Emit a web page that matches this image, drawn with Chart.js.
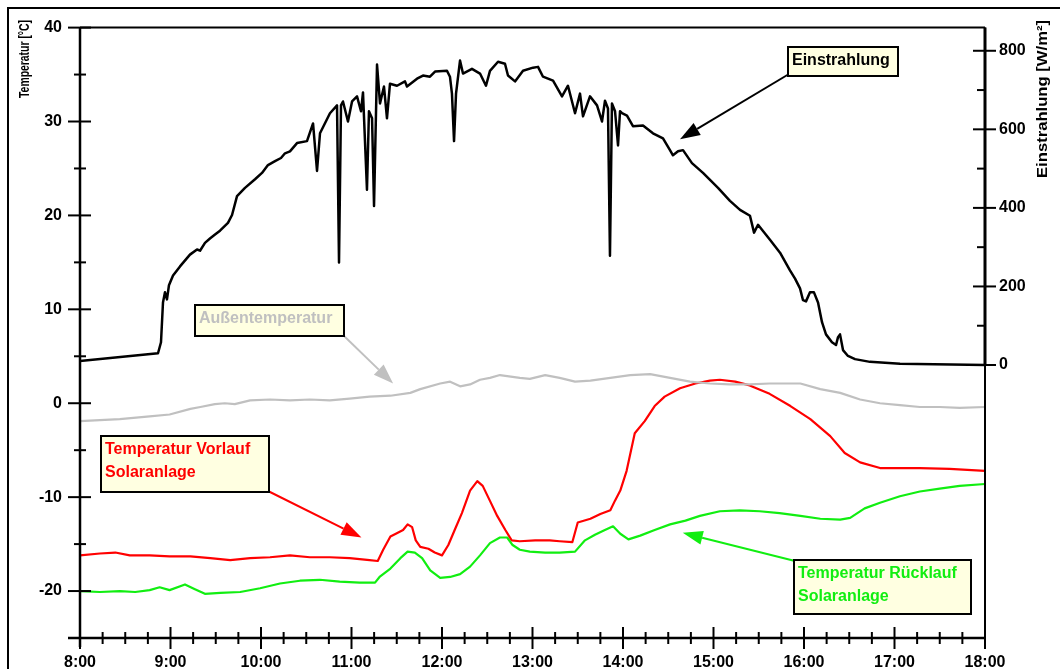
<!DOCTYPE html>
<html lang="de">
<head>
<meta charset="utf-8">
<title>Solaranlage – Temperaturen und Einstrahlung</title>
<script src="https://cdn.jsdelivr.net/npm/chart.js@4.4.1/dist/chart.umd.min.js"></script>
<style>
  html, body { margin: 0; padding: 0; background: #fff; }
  #wrap { width: 1060px; height: 669px; }
</style>
</head>
<body>
<div id="wrap"><canvas id="chart" width="1060" height="669"></canvas></div>
<script>
// ------------------------------------------------------------
// Data (time in decimal hours)
// ------------------------------------------------------------
const hourTicks = [8, 9, 10, 11, 12, 13, 14, 15, 16, 17, 18];
const tempTicks = [-20, -10, 0, 10, 20, 30, 40];
const irrTicks = [0, 200, 400, 600, 800];

// Einstrahlung [W/m²]
const irrTime = [8.00, 8.862, 8.895, 8.917, 8.939, 8.961, 8.983, 9.028, 9.105, 9.215,
  9.293, 9.326, 9.381, 9.436, 9.492, 9.547, 9.635, 9.680, 9.735, 9.823,
  9.934, 10.011, 10.077, 10.155, 10.221, 10.265, 10.320, 10.398, 10.508, 10.575,
  10.619, 10.652, 10.762, 10.840, 10.862, 10.884, 10.906, 10.961, 11.006, 11.061,
  11.105, 11.127, 11.171, 11.193, 11.227, 11.249, 11.282, 11.315, 11.359, 11.392,
  11.425, 11.503, 11.591, 11.613, 11.724, 11.790, 11.867, 11.923, 12.055, 12.088,
  12.110, 12.133, 12.155, 12.199, 12.232, 12.331, 12.420, 12.486, 12.530, 12.619,
  12.696, 12.729, 12.807, 12.895, 13.006, 13.061, 13.116, 13.227, 13.326, 13.392,
  13.470, 13.525, 13.558, 13.635, 13.713, 13.768, 13.801, 13.834, 13.856, 13.878,
  13.912, 13.945, 13.967, 13.989, 14.044, 14.110, 14.221, 14.331, 14.442, 14.519,
  14.552, 14.608, 14.663, 14.762, 14.884, 15.050, 15.182, 15.293, 15.403, 15.448,
  15.492, 15.624, 15.735, 15.845, 15.901, 15.956, 15.989, 16.022, 16.066, 16.110,
  16.155, 16.199, 16.243, 16.309, 16.354, 16.376, 16.398, 16.431, 16.486, 16.564,
  16.729, 17.061, 18.00];
const irrValue = [10, 30, 58, 159, 185, 167, 203, 228, 251, 281,
  294, 291, 311, 322, 332, 342, 362, 382, 430, 451,
  473, 489, 509, 519, 527, 539, 544, 565, 570, 615,
  494, 590, 641, 661, 261, 661, 671, 620, 671, 684,
  646, 694, 446, 646, 628, 405, 765, 666, 709, 628,
  716, 711, 722, 709, 729, 737, 734, 747, 749, 734,
  691, 570, 691, 775, 742, 754, 742, 711, 749, 772,
  767, 737, 722, 749, 757, 759, 734, 724, 684, 711,
  641, 691, 633, 684, 661, 620, 673, 653, 278, 666,
  646, 559, 646, 641, 635, 608, 610, 590, 577, 547,
  534, 544, 547, 514, 489, 451, 418, 395, 380, 337,
  357, 319, 286, 241, 220, 195, 165, 162, 185, 185,
  159, 109, 78, 58, 51, 71, 78, 38, 23, 15,
  8, 3, 0];

// Außentemperatur [°C]
const outTime = [8.00, 8.22, 8.44, 8.77, 8.99, 9.22, 9.33, 9.49, 9.60, 9.71,
  9.88, 10.10, 10.32, 10.54, 10.76, 10.98, 11.20, 11.43, 11.65, 11.76,
  11.98, 12.09, 12.20, 12.31, 12.42, 12.53, 12.64, 12.86, 12.97, 13.14,
  13.30, 13.47, 13.64, 13.86, 14.08, 14.30, 14.52, 14.74, 14.96, 15.18,
  15.40, 15.62, 15.85, 15.96, 16.18, 16.40, 16.62, 16.84, 17.06, 17.28,
  17.50, 17.72, 18.00];
const outTemp = [-1.9, -1.8, -1.7, -1.4, -1.2, -0.6, -0.4, -0.1, 0.0, -0.1,
  0.3, 0.4, 0.3, 0.4, 0.3, 0.5, 0.7, 0.8, 1.1, 1.5,
  2.1, 2.3, 1.8, 2.0, 2.5, 2.7, 3.0, 2.7, 2.6, 3.0,
  2.7, 2.3, 2.4, 2.7, 3.0, 3.1, 2.7, 2.3, 2.1, 2.0,
  2.0, 2.1, 2.1, 2.1, 1.5, 1.1, 0.4, 0.0, -0.2, -0.4,
  -0.4, -0.5, -0.4];

// Temperatur Vorlauf Solaranlage [°C]
const flowTime = [8.00, 8.22, 8.39, 8.55, 8.77, 8.99, 9.22, 9.44, 9.66, 9.88,
  10.10, 10.32, 10.54, 10.76, 10.98, 11.20, 11.29, 11.35, 11.43, 11.49,
  11.57, 11.62, 11.67, 11.71, 11.76, 11.85, 11.92, 12.00, 12.07, 12.14,
  12.22, 12.31, 12.39, 12.45, 12.53, 12.61, 12.70, 12.77, 12.86, 13.03,
  13.19, 13.30, 13.44, 13.50, 13.64, 13.75, 13.86, 13.91, 13.97, 14.04,
  14.13, 14.24, 14.35, 14.46, 14.63, 14.80, 14.96, 15.07, 15.24, 15.40,
  15.62, 15.85, 16.07, 16.29, 16.45, 16.62, 16.84, 17.06, 17.28, 17.61, 18.00];
const flowTemp = [-16.2, -16.0, -15.9, -16.2, -16.2, -16.3, -16.3, -16.5, -16.7, -16.5,
  -16.4, -16.2, -16.4, -16.4, -16.5, -16.7, -16.8, -15.6, -14.2, -13.9,
  -13.5, -12.9, -13.2, -14.6, -15.3, -15.5, -15.9, -16.2, -15.1, -13.5,
  -11.7, -9.3, -8.3, -8.8, -10.4, -12.0, -13.5, -14.6, -14.7, -14.6,
  -14.6, -14.7, -14.8, -12.7, -12.3, -11.8, -11.4, -10.4, -9.3, -7.2,
  -3.2, -1.9, -0.3, 0.7, 1.6, 2.1, 2.4, 2.5, 2.3, 1.9,
  1.0, -0.3, -1.7, -3.5, -5.3, -6.3, -6.9, -6.9, -6.9, -7.0, -7.2];

// Temperatur Rücklauf Solaranlage [°C]
const returnTime = [8.00, 8.22, 8.44, 8.61, 8.77, 8.88, 8.99, 9.16, 9.27, 9.38,
  9.55, 9.77, 9.99, 10.21, 10.43, 10.65, 10.87, 11.09, 11.26, 11.31,
  11.43, 11.54, 11.62, 11.70, 11.78, 11.87, 11.98, 12.09, 12.20, 12.31,
  12.42, 12.53, 12.64, 12.72, 12.78, 12.86, 12.97, 13.14, 13.30, 13.47,
  13.58, 13.69, 13.80, 13.89, 13.97, 14.06, 14.19, 14.35, 14.52, 14.69,
  14.85, 15.07, 15.29, 15.51, 15.73, 15.96, 16.18, 16.40, 16.51, 16.67,
  16.84, 17.06, 17.28, 17.50, 17.72, 18.00];
const returnTemp = [-20.0, -20.1, -20.0, -20.1, -19.9, -19.6, -19.9, -19.3, -19.8, -20.3,
  -20.2, -20.1, -19.7, -19.2, -18.9, -18.8, -19.0, -19.1, -19.1, -18.5,
  -17.6, -16.5, -15.8, -15.9, -16.5, -17.8, -18.6, -18.5, -18.2, -17.4,
  -16.2, -14.9, -14.3, -14.3, -15.1, -15.6, -15.8, -15.9, -15.9, -15.8,
  -14.6, -14.0, -13.5, -13.1, -13.9, -14.5, -14.1, -13.5, -12.9, -12.5,
  -12.0, -11.5, -11.4, -11.5, -11.7, -12.0, -12.3, -12.4, -12.2, -11.2,
  -10.6, -9.9, -9.4, -9.1, -8.8, -8.6];

// ------------------------------------------------------------
// Styling
// ------------------------------------------------------------
const FONT = "'Liberation Sans', Arial, Helvetica, sans-serif";
const C_IRR = '#000000';
const C_OUT = '#c0c0c0';
const C_FLOW = '#ff0000';
const C_RET = '#11ee11';
const NOTE_FILL = '#ffffe1';

const pts = (t, v) => t.map((x, i) => ({ x, y: v[i] }));

// callout boxes: box in px, arrow tip in data units
const notes = [
  { lines: ['Einstrahlung'], color: C_IRR, box: [788, 47, 110, 29], from: [789, 74], axis: 'y2', tip: [14.63, 575] },
  { lines: ['Außentemperatur'], color: C_OUT, box: [195, 305, 149, 31], from: [343, 335], axis: 'y', tip: [11.46, 2.1] },
  { lines: ['Temperatur Vorlauf', 'Solaranlage'], color: C_FLOW, box: [101, 436, 168, 56], from: [268, 491], axis: 'y', tip: [11.11, -14.3] },
  { lines: ['Temperatur Rücklauf', 'Solaranlage'], color: C_RET, box: [794, 560, 177, 54], from: [795, 561], axis: 'y', tip: [14.66, -13.8] }
];

function seg(ctx, x1, y1, x2, y2, w) {
  ctx.lineWidth = w;
  ctx.beginPath();
  ctx.moveTo(x1, y1);
  ctx.lineTo(x2, y2);
  ctx.stroke();
}

function arrow(ctx, x0, y0, x1, y1, color) {
  const ang = Math.atan2(y1 - y0, x1 - x0);
  const len = 20, half = 7;
  const bx = x1 - len * Math.cos(ang), by = y1 - len * Math.sin(ang);
  ctx.strokeStyle = color;
  seg(ctx, x0, y0, bx, by, 2);
  ctx.fillStyle = color;
  ctx.beginPath();
  ctx.moveTo(x1, y1);
  ctx.lineTo(bx + half * Math.sin(ang), by - half * Math.cos(ang));
  ctx.lineTo(bx - half * Math.sin(ang), by + half * Math.cos(ang));
  ctx.closePath();
  ctx.fill();
}

// rotated axis title, stretched to a fixed length
function verticalText(ctx, text, cx, bottom, length, font) {
  ctx.save();
  ctx.font = font;
  const w = ctx.measureText(text).width;
  ctx.translate(cx, bottom);
  ctx.rotate(-Math.PI / 2);
  ctx.scale(length / w, 1);
  ctx.textAlign = 'left';
  ctx.textBaseline = 'middle';
  ctx.fillStyle = '#000';
  ctx.fillText(text, 0, 0);
  ctx.restore();
}

// axes, tick marks, frame, titles and callouts
const decorPlugin = {
  id: 'decor',
  afterDatasetsDraw(chart) {
    const { ctx, chartArea: a, scales: { x, y, y2 } } = chart;
    ctx.save();
    ctx.strokeStyle = '#000';
    ctx.lineCap = 'butt';

    // figure border
    ctx.lineWidth = 2;
    ctx.strokeRect(8, 8, 1100, 700);

    // frame + axes
    seg(ctx, a.left, a.top, a.right, a.top, 2);
    seg(ctx, a.right, a.top, a.right, a.bottom + 11, 2);
    seg(ctx, a.right, a.top, a.right, y2.getPixelForValue(0), 3);
    seg(ctx, a.left, a.top, a.left, a.bottom + 9, 2.5);
    seg(ctx, a.left - 12, a.bottom, a.right, a.bottom, 2.5);

    // left ticks
    tempTicks.forEach(v => { const p = y.getPixelForValue(v); seg(ctx, a.left - 12, p, a.left + 11, p, 2); });
    for (let v = -15; v < 40; v += 10) { const p = y.getPixelForValue(v); seg(ctx, a.left - 6, p, a.left + 6, p, 2); }
    // right ticks
    irrTicks.forEach(v => { const p = y2.getPixelForValue(v); seg(ctx, a.right - 12, p, a.right + 11, p, 2); });
    for (let v = 100; v < 800; v += 200) { const p = y2.getPixelForValue(v); seg(ctx, a.right - 8, p, a.right, p, 2); }
    // time ticks
    hourTicks.forEach(v => { const p = x.getPixelForValue(v); seg(ctx, p, a.bottom - 11, p, a.bottom + 11, 2); });
    for (let h = 8; h < 18; h++) {
      for (let q = 1; q < 4; q++) {
        const p = x.getPixelForValue(h + q / 4);
        seg(ctx, p, a.bottom - 6, p, a.bottom + 6, 2);
      }
    }

    // axis titles
    verticalText(ctx, 'Temperatur [°C]', 25, 98, 78, 'bold 14px ' + FONT);
    verticalText(ctx, 'Einstrahlung [W/m²]', 1043, 178, 158, 'bold 14px ' + FONT);

    // callouts
    notes.forEach(n => {
      const tx = x.getPixelForValue(n.tip[0]);
      const ty = chart.scales[n.axis].getPixelForValue(n.tip[1]);
      arrow(ctx, n.from[0], n.from[1], tx, ty, n.color);
    });
    notes.forEach(n => {
      const [bx, by, bw, bh] = n.box;
      ctx.fillStyle = NOTE_FILL;
      ctx.fillRect(bx, by, bw, bh);
      ctx.strokeStyle = '#000';
      ctx.lineWidth = 2;
      ctx.strokeRect(bx, by, bw, bh);
      ctx.fillStyle = n.color;
      ctx.font = 'bold 16px ' + FONT;
      ctx.textAlign = 'left';
      ctx.textBaseline = 'alphabetic';
      n.lines.forEach((s, i) => ctx.fillText(s, bx + 4, by + 18 + i * 23));
    });
    ctx.restore();
  }
};

const tickFont = { family: FONT, size: 16, weight: 'bold' };

new Chart(document.getElementById('chart'), {
  type: 'line',
  data: {
    datasets: [
      { label: 'Außentemperatur', data: pts(outTime, outTemp), borderColor: C_OUT, borderWidth: 2.2, yAxisID: 'y' },
      { label: 'Temperatur Rücklauf Solaranlage', data: pts(returnTime, returnTemp), borderColor: C_RET, borderWidth: 2.2, yAxisID: 'y' },
      { label: 'Temperatur Vorlauf Solaranlage', data: pts(flowTime, flowTemp), borderColor: C_FLOW, borderWidth: 2.2, yAxisID: 'y' },
      { label: 'Einstrahlung', data: pts(irrTime, irrValue), borderColor: C_IRR, borderWidth: 2.5, yAxisID: 'y2' }
    ]
  },
  options: {
    responsive: false,
    devicePixelRatio: 1,
    animation: false,
    events: [],
    layout: { padding: { top: 24, left: 0, right: 0, bottom: 0 } },
    elements: { point: { radius: 0 }, line: { tension: 0, fill: false, borderJoinStyle: 'round' } },
    plugins: { legend: { display: false }, tooltip: { enabled: false } },
    scales: {
      x: {
        type: 'linear', min: 8, max: 18,
        afterBuildTicks: s => { s.ticks = hourTicks.map(v => ({ value: v })); },
        afterFit: s => { s.height = 31; },
        grid: { display: false, drawTicks: false },
        border: { display: false },
        ticks: { callback: v => v + ':00', font: tickFont, color: '#000', padding: 15, maxRotation: 0, autoSkip: false }
      },
      y: {
        position: 'left', min: -25, max: 40,
        afterBuildTicks: s => { s.ticks = tempTicks.map(v => ({ value: v })); },
        afterFit: s => { s.width = 80; },
        grid: { display: false, drawTicks: false },
        border: { display: false },
        ticks: { font: tickFont, color: '#000', padding: 18 }
      },
      y2: {
        position: 'right', min: -695, max: 859,
        afterBuildTicks: s => { s.ticks = irrTicks.map(v => ({ value: v })); },
        afterFit: s => { s.width = 75; },
        grid: { display: false, drawTicks: false },
        border: { display: false },
        ticks: { font: tickFont, color: '#000', padding: 14 }
      }
    }
  },
  plugins: [decorPlugin]
});
</script>
</body>
</html>
